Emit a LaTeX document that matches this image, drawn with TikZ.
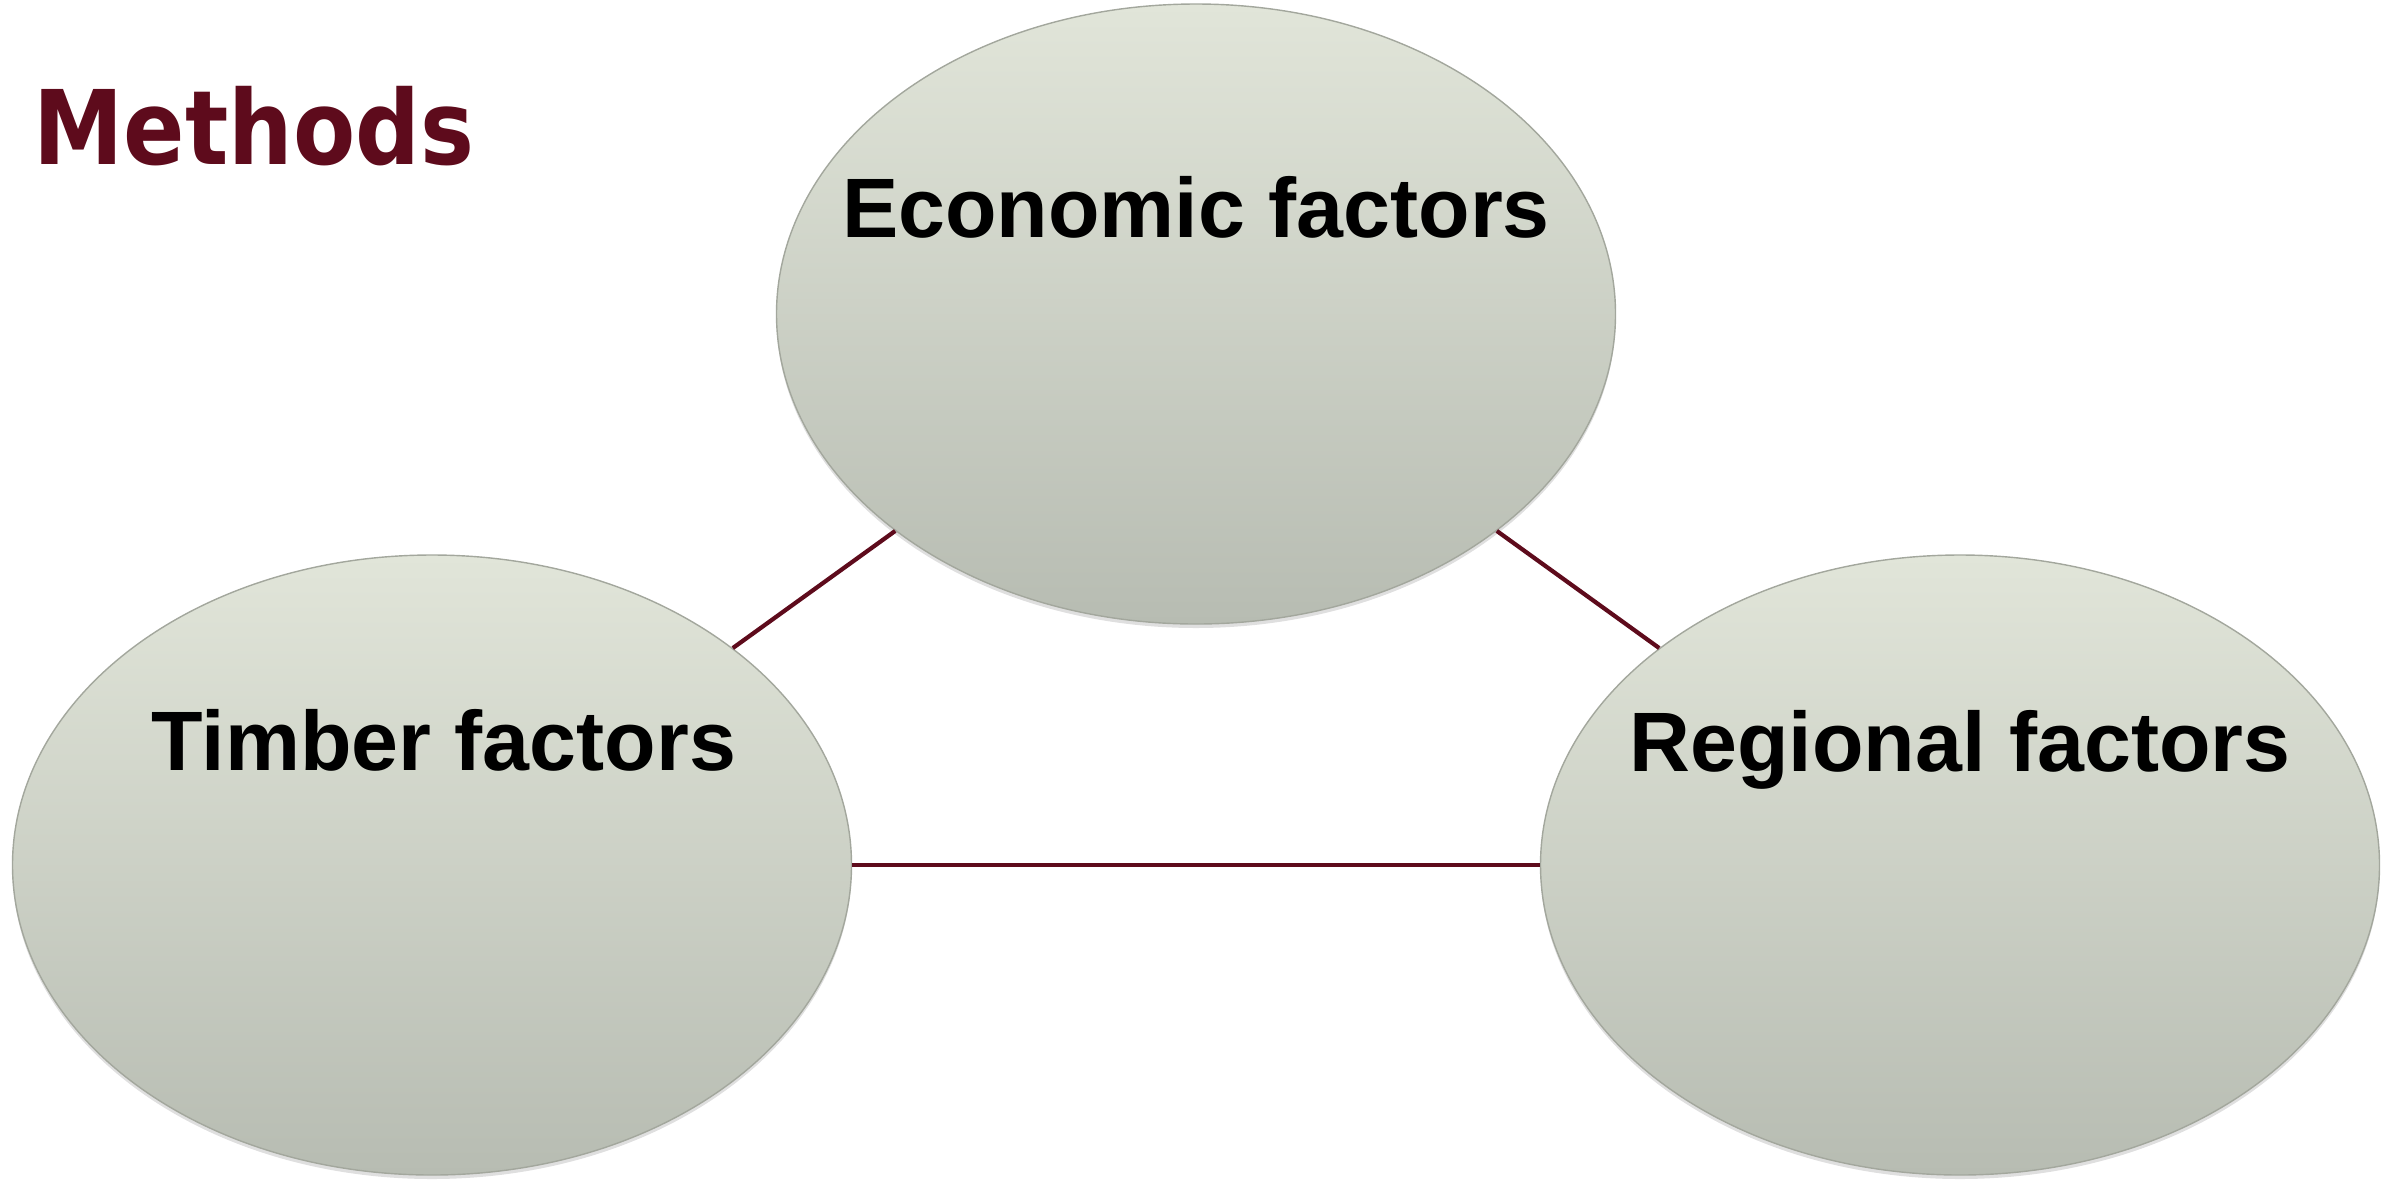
\documentclass[tikz,border=0pt]{standalone}
\usepackage{fontspec}
\usepackage{tikz}
\usetikzlibrary{shapes.geometric,shadows}

\newfontfamily\factorfont{Liberation Sans}
\newfontfamily\titlefont{DejaVu Sans}[FakeStretch=0.88]

\definecolor{maroon}{HTML}{5E0B1C}
\definecolor{sagetop}{HTML}{E1E5D9}
\definecolor{sagebot}{HTML}{B7BCB2}
\definecolor{sageline}{HTML}{A3A79D}

\tikzset{
  factor/.style={ellipse, minimum width=8.39cm, minimum height=6.2cm, inner sep=0pt,
    top color=sagetop, bottom color=sagebot, draw=sageline, line width=0.4pt,
    drop shadow={shadow xshift=0pt, shadow yshift=-0.04cm, opacity=0.25, fill=gray}},
  factortext/.style={anchor=base, inner sep=0pt, font=\factorfont\bfseries\fontsize{24}{28}\selectfont},
  link/.style={draw=maroon, line width=1.2pt}
}

\begin{document}
\begin{tikzpicture}
        \useasboundingbox (0,0) rectangle (23.99,-11.80);

        % Draw the three ellipses
        \node[factor] (econ) at (11.96,-3.14) {};
        \node[factor] (timber) at (4.32,-8.65) {};
        \node[factor] (region) at (19.60,-8.65) {};

        % Add the factor names
        \node[factortext] (econtext) at ([yshift=0.77cm]econ.center) {Economic factors};
        \node[factortext] (timbertext) at ([xshift=0.12cm,yshift=0.95cm]timber.center) {Timber factors};
        \node[factortext] (regiontext) at ([yshift=0.94cm]region.center) {Regional factors};

        % Connect them
        \draw[link] (econ) -- (timber);
        \draw[link] (econ) -- (region);
        \draw[link] (timber) -- (region);

        % Title
        \node[anchor=base west, inner sep=0pt, text=maroon, font=\titlefont\bfseries\fontsize{29.3}{34}\selectfont] (title) at (0.33,-1.64) {Methods};
\end{tikzpicture}
\end{document}
